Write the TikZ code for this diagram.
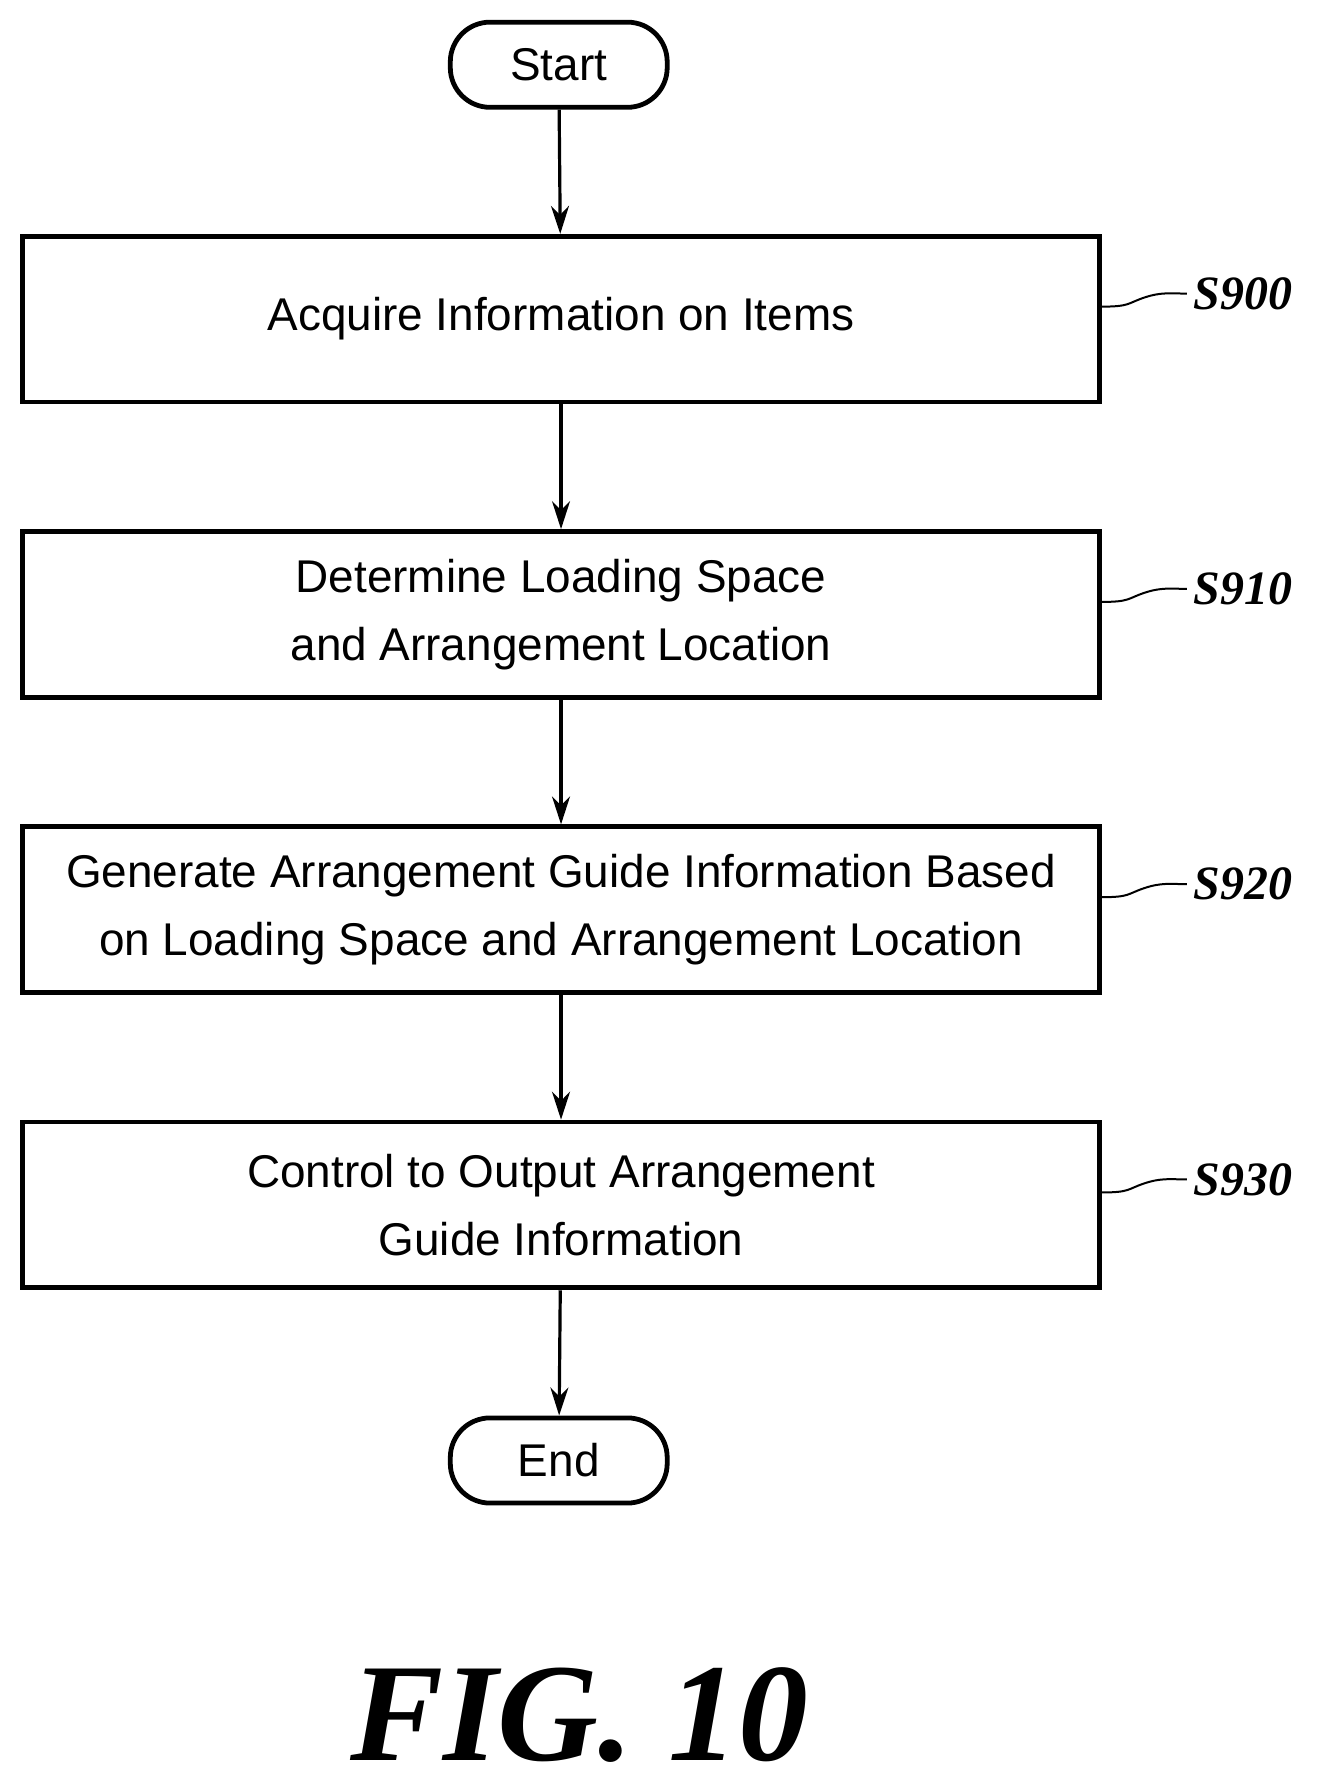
\documentclass[tikz,border=0pt]{standalone}
\usepackage{fontspec}
\setmainfont{Liberation Sans}
\newfontfamily\figfont{Liberation Serif}
\usetikzlibrary{arrows.meta}
\tikzset{
    process/.style={draw,line width=2.4pt,minimum width=18.96cm,minimum height=2.92cm,align=center,font=\fontsize{23}{34}\selectfont},
    term/.style={draw,line width=2.4pt,rounded corners=0.7cm,minimum width=3.82cm,minimum height=1.5cm,font=\fontsize{23}{28}\selectfont},
    flow/.style={line width=1.6pt,-{Stealth[length=14pt,width=9pt]}},
    tag/.style={font=\figfont\bfseries\itshape\fontsize{24}{28}\selectfont,anchor=west}
}
\begin{document}
\begin{tikzpicture}
    \useasboundingbox (0,0) rectangle (23.2,-31.4);
    \node[term] (start) at (9.84,-1.14) {Start};
    \node[process] (s900) at (9.88,-5.62) {Acquire Information on Items};
    \node[process] (s910) at (9.88,-10.82) {Determine Loading Space\\and Arrangement Location};
    \node[process] (s920) at (9.88,-16.02) {Generate Arrangement Guide Information Based\\on Loading Space and Arrangement Location};
    \node[process] (s930) at (9.88,-21.22) {Control to Output Arrangement\\Guide Information};
    \node[term] (end) at (9.84,-25.72) {End};
    \draw[flow] (start) -- (s900);
    \draw[flow] (s900) -- (s910);
    \draw[flow] (s910) -- (s920);
    \draw[flow] (s920) -- (s930);
    \draw[flow] (s930) -- (end);
    % step labels
    \foreach \s/\t in {s900/S900,s910/S910,s920/S920,s930/S930} {
        \node[tag] (l\s) at ([xshift=1.5cm,yshift=0.45cm]\s.east) {\t};
        \draw[line width=1pt] ([yshift=0.22cm]\s.east) .. controls +(0.5,0) and +(-0.3,-0.1) .. ([xshift=0.75cm,yshift=0.38cm]\s.east) .. controls +(0.3,0.1) and +(-0.3,0) .. (l\s.west);
    }
    \node[font=\figfont\bfseries\itshape\fontsize{70}{80}\selectfont] (fig) at (10.2,-30.2) {FIG. 10};
\end{tikzpicture}
\end{document}
